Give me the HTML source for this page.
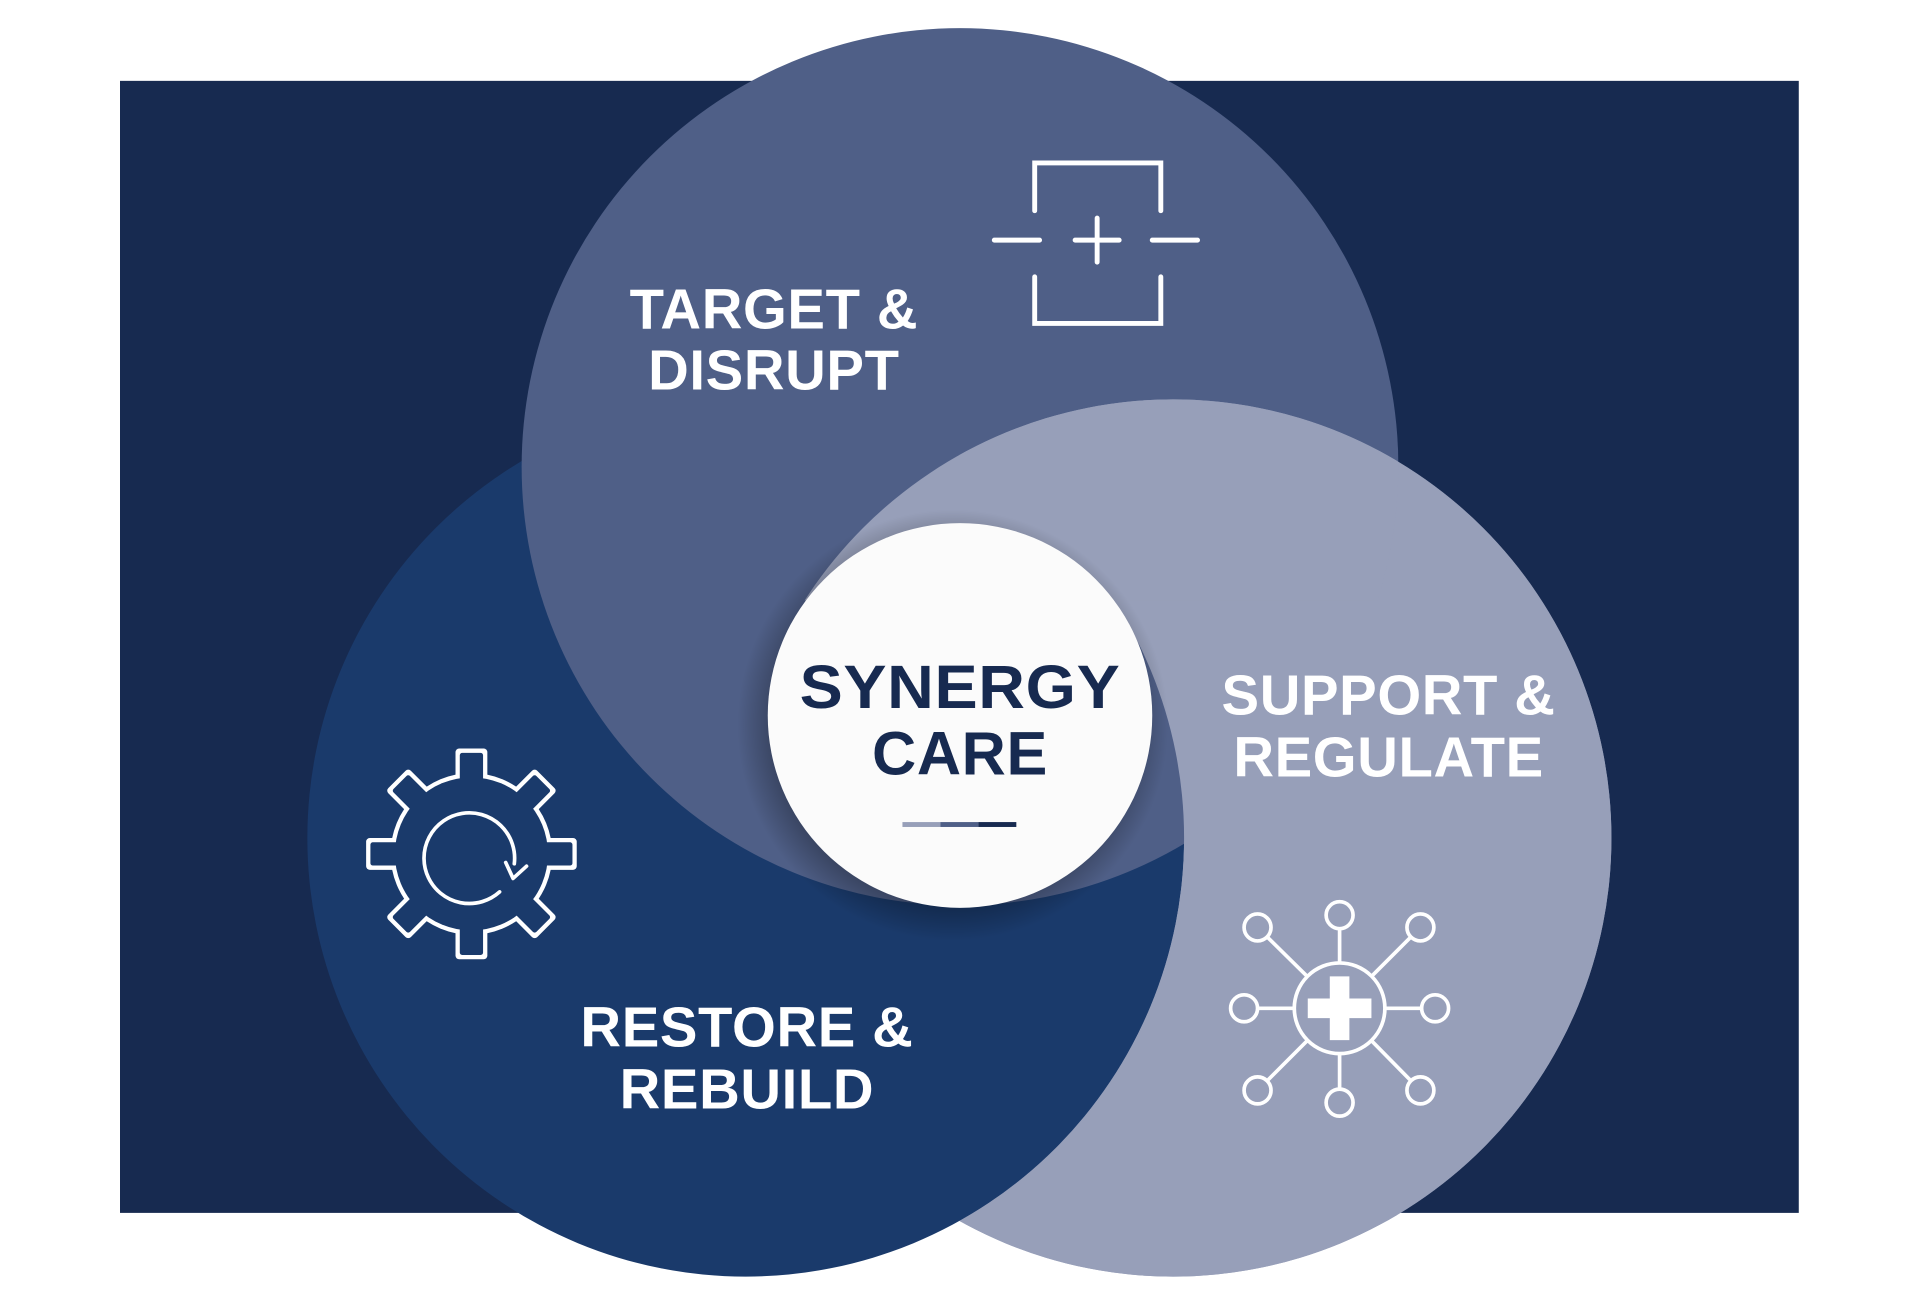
<!DOCTYPE html>
<html><head><meta charset="utf-8"><style>
html,body{margin:0;padding:0;background:#fff}
svg{display:block}
text{font-family:"Liberation Sans",sans-serif;font-weight:700;letter-spacing:0.5px}
</style></head><body>
<svg width="1920" height="1306" viewBox="0 0 1568 1066" preserveAspectRatio="none">
<defs>
<clipPath id="ct"><circle cx="784" cy="381" r="358"/></clipPath>
<clipPath id="cp"><rect x="0" y="0" width="1568" height="490"/></clipPath>
<mask id="ml"><rect width="1568" height="1066" fill="#fff"/><circle cx="609" cy="684" r="358" fill="#000"/></mask>
<radialGradient id="sh" cx="0.5" cy="0.5" r="0.5">
<stop offset="0.82" stop-color="#000" stop-opacity="0.3"/><stop offset="1" stop-color="#000" stop-opacity="0"/></radialGradient>
<g id="tooth"><rect x="-13" y="-86" width="26" height="30" rx="3"/></g>
<g id="tooth2"><rect x="-9.5" y="-82.5" width="19" height="30" rx="2"/></g>
</defs>
<rect x="98" y="66" width="1371" height="924" fill="#172a50"/>
<circle cx="958" cy="684" r="358" fill="#979fb9"/>
<circle cx="609" cy="684" r="358" fill="#1a3a6b"/>
<circle cx="784" cy="381" r="358" fill="#4f5f87"/>
<circle cx="958" cy="684" r="358" fill="#979fb9" mask="url(#ml)"/>
<g clip-path="url(#ct)"><circle cx="958" cy="684" r="358" fill="#979fb9" clip-path="url(#cp)"/></g>
<circle cx="778" cy="592" r="176" fill="url(#sh)"/>
<circle cx="784" cy="584" r="157" fill="#fbfbfb"/>
<g fill="#fff" font-size="46" text-anchor="middle">
<text x="632" y="268">TARGET &amp;</text><text x="632" y="318">DISRUPT</text>
<text x="1134" y="583">SUPPORT &amp;</text><text x="1134" y="634">REGULATE</text>
<text x="610" y="854">RESTORE &amp;</text><text x="610" y="905">REBUILD</text>
</g>
<g fill="#172a50" font-size="50" text-anchor="middle">
<text x="784" y="578" textLength="262" lengthAdjust="spacingAndGlyphs">SYNERGY</text><text x="784" y="632">CARE</text>
</g>
<rect x="737" y="671" width="31" height="4" fill="#979fb9"/>
<rect x="768" y="671" width="31" height="4" fill="#4f5f87"/>
<rect x="799" y="671" width="31" height="4" fill="#172a50"/>
<g stroke="#fff" stroke-width="4" fill="none" stroke-linecap="round">
<path d="M845 172V133H948V172M845 226V264H948V226M812 196H849M941 196H978M878 196H914M896 178V214"/>
</g>
<g transform="translate(385,697)">
<g fill="#fff">
<circle r="66"/>
<use href="#tooth" transform="rotate(0)"/><use href="#tooth" transform="rotate(45)"/>
<use href="#tooth" transform="rotate(90)"/><use href="#tooth" transform="rotate(135)"/>
<use href="#tooth" transform="rotate(180)"/><use href="#tooth" transform="rotate(225)"/>
<use href="#tooth" transform="rotate(270)"/><use href="#tooth" transform="rotate(315)"/>
</g>
<g fill="#1a3a6b">
<circle r="62.5"/>
<use href="#tooth2" transform="rotate(0)"/><use href="#tooth2" transform="rotate(45)"/>
<use href="#tooth2" transform="rotate(90)"/><use href="#tooth2" transform="rotate(135)"/>
<use href="#tooth2" transform="rotate(180)"/><use href="#tooth2" transform="rotate(225)"/>
<use href="#tooth2" transform="rotate(270)"/><use href="#tooth2" transform="rotate(315)"/>
</g>
</g>
<g stroke="#fff" stroke-width="3" fill="none" stroke-linejoin="round" stroke-linecap="round">
<path d="M408 728A37 37 0 1 1 420 705"/>
<path d="M413 704L419 717L430 707"/>
</g>
<g stroke="#fff" stroke-width="3">
<line x1="1094" y1="823" x2="1027" y2="757"/><line x1="1094" y1="823" x2="1094" y2="747"/>
<line x1="1094" y1="823" x2="1160" y2="757"/><line x1="1094" y1="823" x2="1016" y2="823"/>
<line x1="1094" y1="823" x2="1172" y2="823"/><line x1="1094" y1="823" x2="1027" y2="890"/>
<line x1="1094" y1="823" x2="1094" y2="900"/><line x1="1094" y1="823" x2="1160" y2="890"/>
</g>
<g stroke="#fff" stroke-width="3" fill="#979fb9">
<circle cx="1094" cy="823" r="37"/>
<circle cx="1027" cy="757" r="11"/><circle cx="1094" cy="747" r="11"/><circle cx="1160" cy="757" r="11"/>
<circle cx="1016" cy="823" r="11"/><circle cx="1172" cy="823" r="11"/>
<circle cx="1027" cy="890" r="11"/><circle cx="1094" cy="900" r="11"/><circle cx="1160" cy="890" r="11"/>
</g>
<path d="M1086 797h16v18h18v16h-18v18h-16v-18h-18v-16h18z" fill="#fff"/>
</svg>
</body></html>
